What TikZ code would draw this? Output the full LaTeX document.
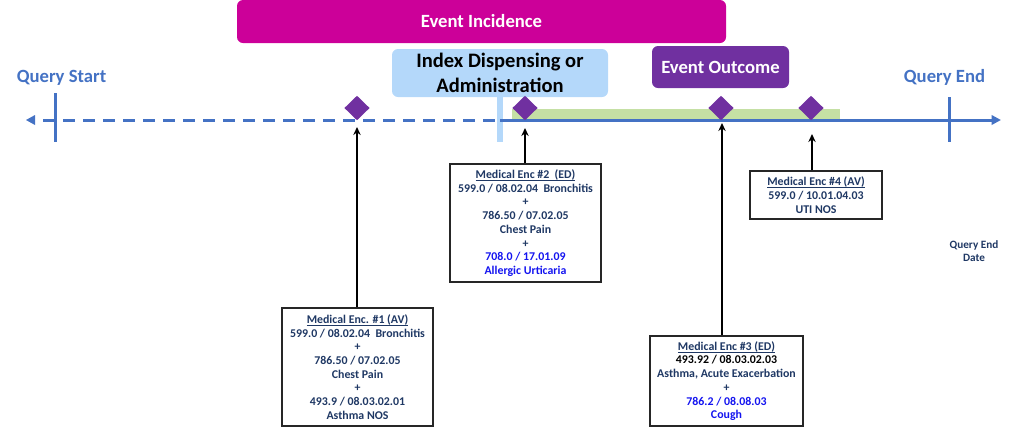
\documentclass[tikz,border=0pt]{standalone}
\usepackage{fontspec}
\setmainfont{Carlito}
\usetikzlibrary{shapes.geometric,arrows.meta}
\definecolor{magentaA}{RGB}{204,0,153}
\definecolor{lblueA}{RGB}{180,216,250}
\definecolor{purpA}{RGB}{112,48,160}
\definecolor{lineblueA}{RGB}{68,114,196}
\definecolor{lgreenA}{RGB}{197,224,164}
\definecolor{navyA}{RGB}{31,56,100}
\definecolor{bblueA}{RGB}{20,20,240}
\newcommand{\ulhead}[1]{\underline{\smash{#1}}\vphantom{#1}}
\tikzset{
  banner/.style={rounded corners=4.5pt, inner sep=0pt, align=center,
    font=\bfseries\fontsize{14}{18.75}\selectfont},
  encbox/.style={draw=black!85, line width=1.1pt, fill=white, inner sep=0pt,
    align=center, text=navyA, font=\bfseries\fontsize{8.9}{10.3}\selectfont},
  evt/.style={diamond, fill=purpA, inner sep=0pt, minimum width=19pt, minimum height=18.5pt},
  ptr/.style={draw=black, line width=1.5pt, -{Stealth[length=6pt,width=5.5pt]}},
  qlabel/.style={text=lineblueA, font=\bfseries\fontsize{14}{17}\selectfont},
  axis/.style={draw=lineblueA, line width=2.25pt},
}
\begin{document}
\begin{tikzpicture}[x=0.75pt,y=-0.75pt]
\useasboundingbox (0,0) rectangle (1029,430);

% banners
\node[banner, fill=magentaA, text=white, minimum width=366.75pt, minimum height=32.25pt]
  (inc) at (481.5,21.5) {\raisebox{-1.2pt}{Event Incidence}};
\node[banner, fill=lblueA, text=black, minimum width=162pt, minimum height=36pt,
  font=\bfseries\fontsize{15.4}{18.75}\selectfont]
  (idx) at (500,73) {\raisebox{-1.5pt}{Index Dispensing or}\\\raisebox{-1.5pt}{Administration}};
\node[banner, fill=purpA, text=white, minimum width=102.75pt, minimum height=31.5pt,
  font=\bfseries\fontsize{14}{16}\selectfont]
  (out) at (720.5,67) {Event Outcome};
\fill[lblueA] ([xshift=-1.9pt]idx.south) rectangle ([xshift=1.9pt,yshift=-33.75pt]idx.south);

% query labels
\node[qlabel] (qs) at (61.5,77.5) {Query Start};
\node[qlabel] (qe) at (944.5,77.5) {Query End};
\node[align=center, text=navyA, font=\bfseries\fontsize{8.4}{9.9}\selectfont]
  (qed) at (974,251.5) {Query End\\Date};

% green exposure bar
\fill[lgreenA] (512,109) rectangle (840,119);

% timeline
\coordinate (ltip) at (26,120);
\coordinate (dstart) at (43,120);
\coordinate (mid) at (500,120);
\coordinate (rtip) at (1001,120);
\fill[lineblueA] (ltip) -- ++(9,-5) -- ++(0,10) -- cycle;
\draw[axis, dash pattern=on 9pt off 6pt] (dstart) -- (mid);
\draw[axis, -{Triangle[length=7pt,width=7pt]}] (mid) -- (rtip);
\draw[axis] (55,93) -- (55,142);
\draw[axis] (949,97) -- (949,142);

% events
\node[evt] (d1) at (357,108) {};
\node[evt] (d2) at (525,108) {};
\node[evt] (d3) at (721,108) {};
\node[evt] (d4) at (811,108) {};

% encounter boxes
\node[encbox, minimum width=113.25pt, minimum height=88.5pt] (b1) at (357.5,367)
  {\ulhead{Medical Enc. \#1 (AV)}\\599.0 / 08.02.04~~Bronchitis\\+\\786.50 / 07.02.05\\Chest Pain\\+\\493.9 / 08.03.02.01\\Asthma NOS};
\node[encbox, minimum width=113.25pt, minimum height=88.5pt] (b2) at (525.5,223)
  {\ulhead{Medical Enc \#2~~(ED)}\\599.0 / 08.02.04~~Bronchitis\\+\\786.50 / 07.02.05\\Chest Pain\\+\\\textcolor{bblueA}{708.0 / 17.01.09}\\\textcolor{bblueA}{Allergic Urticaria}};
\node[encbox, minimum width=114.75pt, minimum height=67.5pt] (b3) at (726.5,381)
  {\ulhead{Medical Enc \#3 (ED)}\\\textcolor{black}{493.92 / 08.03.02.03}\\Asthma, Acute Exacerbation\\+\\\textcolor{bblueA}{786.2 / 08.08.03}\\\textcolor{bblueA}{Cough}};
\node[encbox, minimum width=99pt, minimum height=36pt] (b4) at (816,195)
  {\ulhead{Medical Enc \#4 (AV)}\\599.0 / 10.01.04.03\\UTI NOS};

% pointers
\coordinate (t1) at (357,127);
\coordinate (t2) at (525,128);
\coordinate (t3) at (722,123);
\coordinate (t4) at (812,134);
\draw[ptr] (b1.north -| t1) -- (t1);
\draw[ptr] (b2.north -| t2) -- (t2);
\draw[ptr] (b3.north -| t3) -- (t3);
\draw[ptr] (b4.north -| t4) -- (t4);
\end{tikzpicture}
\end{document}
